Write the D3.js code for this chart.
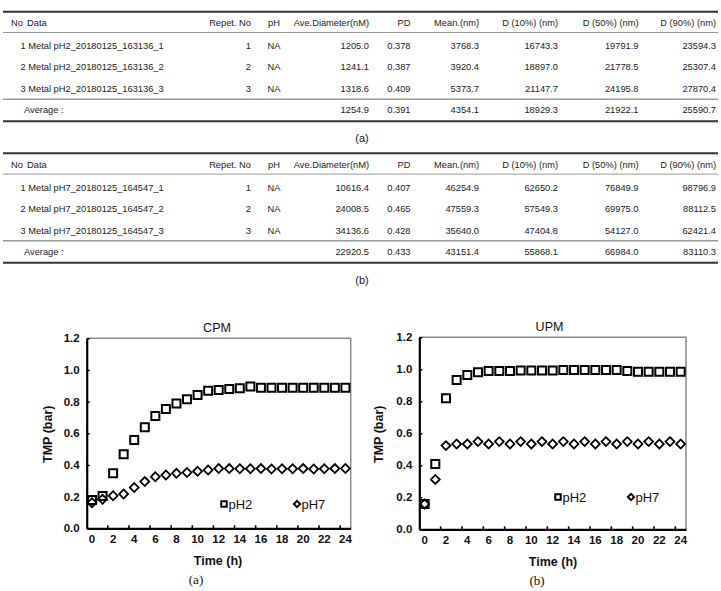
<!DOCTYPE html>
<html>
<head>
<meta charset="utf-8">
<script src="https://cdn.jsdelivr.net/npm/d3@7"></script>
<style>
  html, body { margin: 0; padding: 0; background: #fff; }
  svg { display: block; }
  .tbl text { font-family: "Liberation Sans", Arial, sans-serif; font-size: 9.3px; fill: #222; }
  .chart text { font-family: "Liberation Sans", Arial, sans-serif; fill: #111; }
</style>
</head>
<body>
<svg id="page" width="721" height="591"></svg>
<script>
// table data
const tableHeader = ["No Data", "Repet. No", "pH", "Ave.Diameter(nM)", "PD", "Mean.(nm)", "D (10%) (nm)", "D (50%) (nm)", "D (90%) (nm)"];

const tableARows = [
  ["1 Metal pH2_20180125_163136_1", "1", "NA", "1205.0", "0.378", "3768.3", "16743.3", "19791.9", "23594.3"],
  ["2 Metal pH2_20180125_163136_2", "2", "NA", "1241.1", "0.387", "3920.4", "18897.0", "21778.5", "25307.4"],
  ["3 Metal pH2_20180125_163136_3", "3", "NA", "1318.6", "0.409", "5373.7", "21147.7", "24195.8", "27870.4"]
];
const tableAAverage = ["Average :", "", "", "1254.9", "0.391", "4354.1", "18929.3", "21922.1", "25590.7"];

const tableBRows = [
  ["1 Metal pH7_20180125_164547_1", "1", "NA", "10616.4", "0.407", "46254.9", "62650.2", "76849.9", "98796.9"],
  ["2 Metal pH7_20180125_164547_2", "2", "NA", "24008.5", "0.465", "47559.3", "57549.3", "69975.0", "88112.5"],
  ["3 Metal pH7_20180125_164547_3", "3", "NA", "34136.6", "0.428", "35640.0", "47404.8", "54127.0", "62421.4"]
];
const tableBAverage = ["Average :", "", "", "22920.5", "0.433", "43151.4", "55868.1", "66984.0", "83110.3"];

// chart data
const hours = [0, 1, 2, 3, 4, 5, 6, 7, 8, 9, 10, 11, 12, 13, 14, 15, 16, 17, 18, 19, 20, 21, 22, 23, 24];
const hourLabels = [0, 2, 4, 6, 8, 10, 12, 14, 16, 18, 20, 22, 24];
const yTicks = [0, 0.2, 0.4, 0.6, 0.8, 1.0, 1.2];

const cpmPH2 = [0.178, 0.204, 0.347, 0.467, 0.558, 0.638, 0.709, 0.754, 0.789, 0.815, 0.842, 0.869, 0.874,
                0.880, 0.884, 0.895, 0.888, 0.888, 0.888, 0.888, 0.888, 0.888, 0.888, 0.888, 0.888];
const cpmPH7 = [0.162, 0.183, 0.206, 0.217, 0.257, 0.295, 0.326, 0.337, 0.347, 0.352, 0.360, 0.368, 0.378,
                0.377, 0.376, 0.376, 0.377, 0.375, 0.376, 0.376, 0.377, 0.375, 0.376, 0.377, 0.378];
const upmPH2 = [0.158, 0.408, 0.819, 0.933, 0.965, 0.981, 0.990, 0.990, 0.990, 0.992, 0.992, 0.992, 0.992,
                0.996, 0.996, 0.996, 0.996, 0.996, 0.996, 0.990, 0.985, 0.985, 0.985, 0.985, 0.985];
const upmPH7 = [0.158, 0.312, 0.523, 0.533, 0.533, 0.548, 0.533, 0.548, 0.533, 0.548, 0.533, 0.548, 0.533,
                0.548, 0.533, 0.548, 0.533, 0.548, 0.533, 0.548, 0.533, 0.548, 0.533, 0.548, 0.533];

const svg = d3.select("#page");

// ---------- tables ----------
const cols = [
  { x: 11, anchor: "start" },
  { x: 251, anchor: "end" },
  { x: 274, anchor: "middle" },
  { x: 369, anchor: "end" },
  { x: 410.5, anchor: "end" },
  { x: 479, anchor: "end" },
  { x: 558, anchor: "end" },
  { x: 638.5, anchor: "end" },
  { x: 716, anchor: "end" }
];

function drawTable(top, rows, avg, caption) {
  const g = svg.append("g").attr("class", "tbl").attr("transform", `translate(0,${top})`);
  const rowY = [11, 34.5, 55.5, 77, 98.5];

  const line = (y, w, c) => g.append("line")
    .attr("x1", 3).attr("x2", 718).attr("y1", y).attr("y2", y)
    .attr("stroke", c).attr("stroke-width", w);
  line(0, 2, "#333");
  line(20.8, 1, "#999");
  line(87.5, 1.5, "#999");
  line(109.5, 2, "#333");

  const header = g.append("g");
  header.append("text").attr("x", 11).attr("y", rowY[0]).attr("dy", "0.35em").text("No");
  header.append("text").attr("x", 27).attr("y", rowY[0]).attr("dy", "0.35em").text("Data");
  tableHeader.slice(1).forEach((h, i) => {
    header.append("text").attr("x", cols[i + 1].x).attr("y", rowY[0]).attr("dy", "0.35em")
      .attr("text-anchor", cols[i + 1].anchor).text(h);
  });

  rows.concat([avg]).forEach((r, ri) => {
    r.forEach((v, ci) => {
      if (!v) return;
      let x = cols[ci].x;
      if (ci === 0) x = ri === 3 ? 24 : 20.5;
      g.append("text").attr("x", x).attr("y", rowY[ri + 1]).attr("dy", "0.35em")
        .attr("text-anchor", cols[ci].anchor).text(v);
    });
  });

  g.append("text").attr("x", 362).attr("y", 126.5).attr("dy", "0.35em")
    .attr("text-anchor", "middle").style("font-size", "11px").text(caption);
}

drawTable(11.7, tableARows, tableAAverage, "(a)");
drawTable(153.3, tableBRows, tableBAverage, "(b)");

// ---------- charts ----------
function drawChart(opt) {
  const g = svg.append("g").attr("class", "chart");
  const x = d3.scaleBand().domain(hours).range([opt.left, opt.right]).padding(0);
  const y = d3.scaleLinear().domain([0, 1.2]).range([opt.bottom, opt.top]);
  const cx = h => x(h) + x.bandwidth() / 2;

  // frame (top and right)
  g.append("path")
    .attr("d", `M${opt.left},${opt.top}H${opt.right}V${opt.bottom}`)
    .attr("fill", "none").attr("stroke", "#8a8a8a").attr("stroke-width", 1.5);

  // y axis
  const ya = g.append("g").attr("transform", `translate(${opt.left},0)`)
    .call(d3.axisLeft(y).tickValues(yTicks).tickFormat(d3.format(".1f"))
      .tickSizeInner(-3).tickSizeOuter(0).tickPadding(7));
  ya.select(".domain").attr("stroke", "#000").attr("stroke-width", 2.2);
  ya.selectAll(".tick line").attr("stroke", "#000").attr("stroke-width", 1.5);
  ya.selectAll("text").style("font-size", "11.5px").style("font-weight", "bold").attr("fill", "#111");

  // x axis: labels at categories, ticks on category boundaries
  const xa = g.append("g").attr("transform", `translate(0,${opt.bottom})`)
    .call(d3.axisBottom(x).tickValues(hourLabels).tickSize(0).tickPadding(7));
  xa.select(".domain").attr("stroke", "#000").attr("stroke-width", 2.2);
  xa.selectAll("text").style("font-size", "11.5px").style("font-weight", "bold").attr("fill", "#111");
  g.append("g").selectAll("line").data(hourLabels.slice(1)).join("line")
    .attr("x1", d => x(d)).attr("x2", d => x(d))
    .attr("y1", opt.bottom).attr("y2", opt.bottom - 3)
    .attr("stroke", "#000").attr("stroke-width", 1.6);

  // titles
  g.append("text").attr("x", opt.titleX).attr("y", opt.top - 11).attr("dy", "0.35em")
    .attr("text-anchor", "middle").style("font-size", "12.5px").text(opt.title);
  g.append("text").attr("x", opt.xTitleX).attr("y", opt.bottom + 32).attr("dy", "0.35em")
    .attr("text-anchor", "middle").style("font-size", "12.5px").style("font-weight", "bold").text("Time (h)");
  g.append("text")
    .attr("transform", `translate(${opt.yTitleX},${(opt.top + opt.bottom) / 2 + 1}) rotate(-90)`)
    .attr("dy", "0.35em").attr("text-anchor", "middle")
    .style("font-size", "12.5px").style("font-weight", "bold").text("TMP (bar)");
  g.append("text").attr("x", opt.capX).attr("y", opt.bottom + 51).attr("dy", "0.35em")
    .attr("text-anchor", "middle")
    .style("font-family", "'Liberation Serif', 'Times New Roman', serif").style("font-size", "13px")
    .text(opt.caption);

  const square = d3.symbol().type(d3.symbolSquare);
  const marks = g.append("g").attr("fill", "none").attr("stroke", "#000");

  marks.append("g").selectAll("path").data(opt.ph2).join("path")
    .attr("d", square.size(64))
    .attr("transform", (d, i) => `translate(${cx(hours[i])},${y(d)})`)
    .attr("stroke-width", 2);

  marks.append("g").selectAll("path").data(opt.ph7).join("path")
    .attr("d", square.size(40))
    .attr("transform", (d, i) => `translate(${cx(hours[i])},${y(d)}) rotate(45)`)
    .attr("stroke-width", 1.8);

  // legend
  const lg = g.append("g");
  lg.append("path").attr("d", square.size(30))
    .attr("transform", `translate(${opt.legX},${opt.legY})`)
    .attr("fill", "none").attr("stroke", "#000").attr("stroke-width", 2);
  lg.append("text").attr("x", opt.legX + 4.5).attr("y", opt.legY).attr("dy", "0.36em")
    .style("font-size", "13px").text("pH2");
  lg.append("path").attr("d", square.size(20))
    .attr("transform", `translate(${opt.legX + 73},${opt.legY}) rotate(45)`)
    .attr("fill", "none").attr("stroke", "#000").attr("stroke-width", 2);
  lg.append("text").attr("x", opt.legX + 77.5).attr("y", opt.legY).attr("dy", "0.36em")
    .style("font-size", "13px").text("pH7");
}

drawChart({
  left: 86.7, right: 350.7, top: 338.3, bottom: 528.3,
  title: "CPM", titleX: 217, xTitleX: 218, yTitleX: 48, capX: 196, caption: "(a)",
  legX: 224, legY: 504, ph2: cpmPH2, ph7: cpmPH7
});

drawChart({
  left: 419.3, right: 686, top: 337.3, bottom: 529.3,
  title: "UPM", titleX: 549.5, xTitleX: 553, yTitleX: 378.5, capX: 537, caption: "(b)",
  legX: 558, legY: 497, ph2: upmPH2, ph7: upmPH7
});
</script>
</body>
</html>
